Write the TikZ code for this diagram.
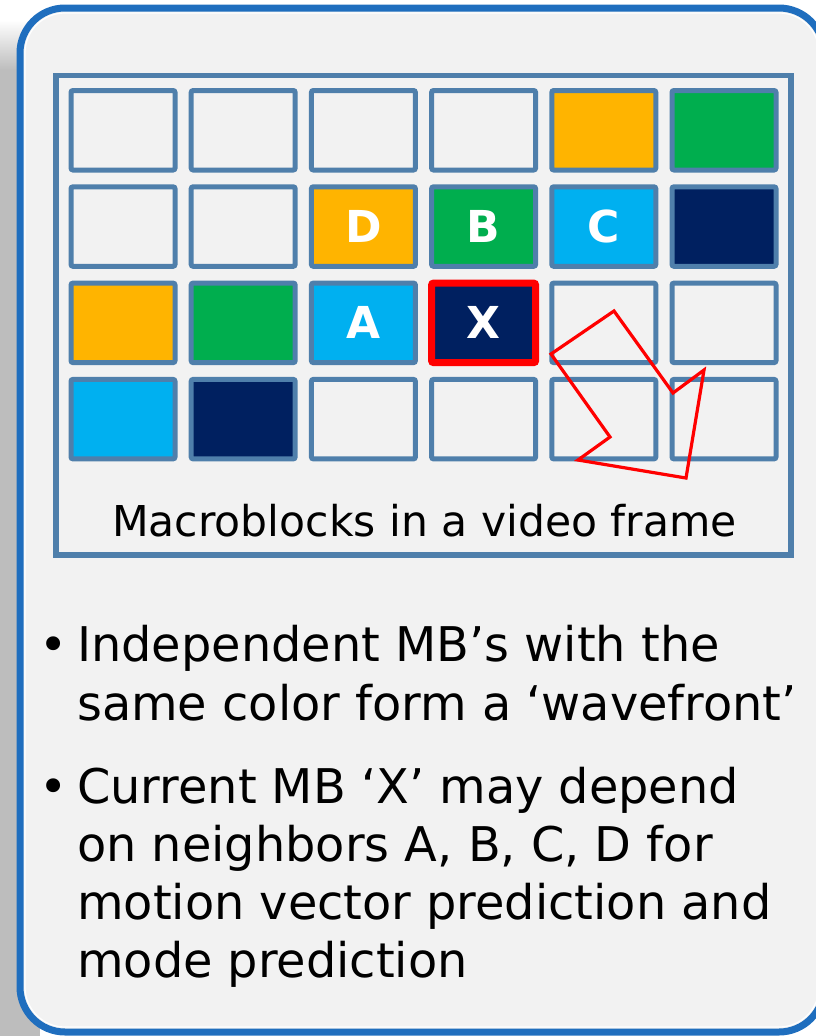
\documentclass[tikz,border=0pt]{standalone}
\usepackage{fontspec}
\setmainfont{DejaVu Sans}
\usepackage{tikz}
\definecolor{frameblue}{HTML}{4F7FAB}
\definecolor{boxblue}{HTML}{1F6EBE}
\definecolor{panel}{HTML}{F2F2F2}
\definecolor{shadowgray}{HTML}{BDBDBD}
\definecolor{wf4}{HTML}{FFB400}
\definecolor{wf5}{HTML}{00AE4E}
\definecolor{wf6}{HTML}{00B0F0}
\definecolor{wf7}{HTML}{002060}
\definecolor{curred}{HTML}{FF0000}

\begin{document}
\begin{tikzpicture}[x=1pt,y=-1pt,
   mb/.style={draw=frameblue,line width=5pt,rounded corners=2pt,minimum width=104pt,minimum height=79.5pt,inner sep=0pt},
   mbtag/.style={text=white,font=\fontsize{44}{52}\selectfont\bfseries},
   bullettext/.style={anchor=base west,inner sep=0pt,font=\fontsize{47.8}{58}\selectfont}]
  \useasboundingbox (0,0) rectangle (815,1036);
  % shadow at the left of the panel
  \fill[shadowgray] (0,70) rectangle (40,1036);
  \shade[top color=white,bottom color=shadowgray] (0,20) rectangle (40,70);
  \draw[boxblue,line width=7pt,fill=panel,rounded corners=45pt] (20,8) rectangle (824,1032);
  \draw[white,line width=1.2pt,rounded corners=40pt] (25,13) rectangle (819,1027);
  \draw[frameblue,line width=5.5pt] (56,75.5) rectangle (791,555);
  % macroblocks, coloured by wavefront i+2j
  \foreach \j in {0,...,3}
    \foreach \i in {0,...,5}{
      \pgfmathtruncatemacro\w{\i+2*\j}
      \ifnum\w<4 \def\mbfill{panel}\else\ifnum\w>7 \def\mbfill{panel}\else\def\mbfill{wf\w}\fi\fi
      \node[mb,fill=\mbfill] (mb-\i-\j) at (123+120.2*\i,130.25+96.3*\j) {};
    }
  \foreach \i/\j/\t in {2/1/D,3/1/B,4/1/C,2/2/A}
    \node[mbtag] at (mb-\i-\j) {\t};
  \node[mb,draw=curred,line width=7pt,fill=wf7,mbtag] (cur) at (mb-3-2) {X};
  \draw[curred,line width=3.2pt] (614,311) -- (551,354) -- (610,437) -- (578,460) -- (686,478) -- (704,370) -- (673,393) -- cycle;
  \node[anchor=base,inner sep=0pt,font=\fontsize{42.5}{51}\selectfont] (cap) at (424.5,536) {Macroblocks in a video frame};
  % bullets
  \node[bullettext] (dot1) at (39,661) {•};
  \node[bullettext] (dot2) at (39,803) {•};
  \foreach \y/\t [count=\n] in {661/{Independent MB’s with the},720/{same color form a ‘wavefront’},
      803/{Current MB ‘X’ may depend},861/{on neighbors A, B, C, D for},919/{motion vector prediction and},977/{mode prediction}}
    \node[bullettext] (line\n) at (77,\y) {\t};
\end{tikzpicture}
\end{document}
